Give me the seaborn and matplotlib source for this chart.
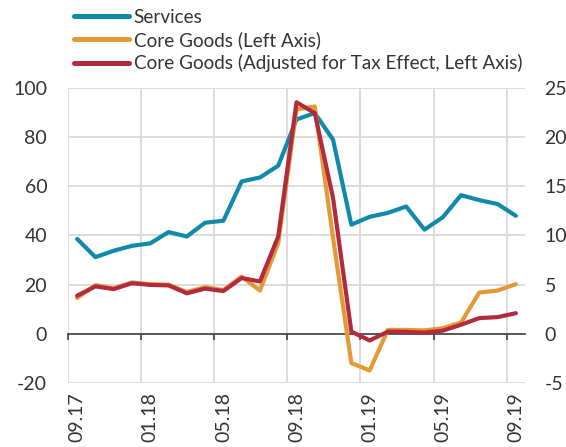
import numpy as np
import pandas as pd
import matplotlib
matplotlib.use("Agg")
import matplotlib.pyplot as plt
from matplotlib.lines import Line2D
import seaborn as sns

months = ["09.17", "10.17", "11.17", "12.17", "01.18", "02.18", "03.18", "04.18",
          "05.18", "06.18", "07.18", "08.18", "09.18", "10.18", "11.18", "12.18",
          "01.19", "02.19", "03.19", "04.19", "05.19", "06.19", "07.19", "08.19", "09.19"]
services = [9.65, 7.8, 8.45, 8.95, 9.2, 10.35, 9.9, 11.3, 11.5, 15.5, 15.9, 17.1, 21.8,
            22.45, 19.75, 11.1, 11.9, 12.3, 12.95, 10.6, 11.85, 14.1, 13.6, 13.2, 12.0]
core_goods = [14.6, 19.8, 18.5, 20.9, 20.2, 20.0, 17.0, 19.0, 17.8, 23.3, 17.6, 36.9, 91.3,
              92.5, 39.0, -11.9, -14.9, 1.6, 1.6, 1.4, 2.3, 4.6, 16.8, 17.6, 20.2]
core_goods_adj = [15.5, 19.3, 18.2, 20.6, 19.9, 19.7, 16.5, 18.4, 17.4, 22.7, 21.3, 39.6, 94.2,
                  89.8, 55.2, 0.9, -2.7, 0.9, 0.8, 0.5, 1.3, 3.7, 6.4, 6.8, 8.4]
labels = ["Services", "Core Goods (Left Axis)", "Core Goods (Adjusted for Tax Effect, Left Axis)"]
left_ticks = [-20, 0, 20, 40, 60, 80, 100]
right_ticks = [-5, 0, 5, 10, 15, 20, 25]

teal = "#1089AB"
orange = "#E39A36"
red = "#B32A3C"
text_c = "#333333"
grid_c = "#D9D9D9"

sns.set_theme(style="white")
plt.rcParams['font.family'] = ['Lato', 'DejaVu Sans']
plt.rcParams['axes.unicode_minus'] = False

df = pd.DataFrame({"x": np.arange(len(months)), "month": months,
                   "services": services, "core": core_goods, "adj": core_goods_adj})

W, H = 566, 447
fig = plt.figure(figsize=(W / 100, H / 100), dpi=100)
ax = fig.add_axes([68 / W, 1 - 383 / H, (525 - 68) / W, (383 - 88) / H])  # right-axis (services)
axL = ax.twinx()  # left axis (core goods), drawn on top
ax.yaxis.tick_right()
ax.yaxis.set_label_position('right')
axL.yaxis.tick_left()
axL.yaxis.set_label_position('left')

lw = 3.0
sns.lineplot(data=df, x="x", y="services", ax=ax, color=teal, lw=lw, legend=False)
sns.lineplot(data=df, x="x", y="core", ax=axL, color=orange, lw=lw, legend=False)
sns.lineplot(data=df, x="x", y="adj", ax=axL, color=red, lw=lw, legend=False)

ax.set_xlim(-0.5, len(months) - 0.5)
ax.set_ylim(right_ticks[0], right_ticks[-1])
axL.set_ylim(left_ticks[0], left_ticks[-1])
ax.set_xlabel("")
ax.set_ylabel("")
axL.set_ylabel("")

ax.set_yticks(right_ticks)
ax.set_yticklabels([str(t) for t in right_ticks])
axL.set_yticks(left_ticks)
axL.set_yticklabels([str(t) for t in left_ticks])

major_x = np.arange(0, len(months), 4)
minor_x = np.arange(-0.5, len(months) - 1, 4)
ax.set_xticks(major_x)
ax.set_xticklabels([months[i] for i in major_x], rotation=90)
ax.set_xticks(minor_x, minor=True)

ax.grid(axis='y', color=grid_c, lw=1.3)
ax.grid(axis='x', which='minor', color=grid_c, lw=1.3)
ax.grid(axis='x', which='major', visible=False)

for a in (ax, axL):
    for s in a.spines.values():
        s.set_visible(False)

fs = 14
ax.tick_params(axis='y', length=0, pad=14, labelsize=fs, labelcolor=text_c)
axL.tick_params(axis='y', length=0, pad=15, labelsize=fs, labelcolor=text_c)
ax.tick_params(axis='x', which='both', length=0, pad=6.5, labelsize=fs, labelcolor=text_c)

# zero line with small tick marks
frac0 = (0 - left_ticks[0]) / (left_ticks[-1] - left_ticks[0])
sec = axL.secondary_xaxis(frac0)
sec.set_xticks(minor_x)
sec.tick_params(axis='x', length=4, width=1.2, direction='out', color='#404040',
                labelbottom=False, labeltop=False)
sec.spines['bottom'].set_color('#404040')
sec.spines['bottom'].set_linewidth(1.2)
for k in ('top', 'left', 'right'):
    if k in sec.spines:
        sec.spines[k].set_visible(False)

handles = [Line2D([], [], color=c, lw=3.6) for c in (teal, orange, red)]
fig.legend(handles, labels, loc='upper left', bbox_to_anchor=(74 / W, 1 - 9 / H),
           frameon=False, fontsize=13.6, handlelength=2.9, handletextpad=0.25,
           labelspacing=0.27, borderpad=0, borderaxespad=0, labelcolor=text_c)

fig.savefig("out.png", dpi=100)
